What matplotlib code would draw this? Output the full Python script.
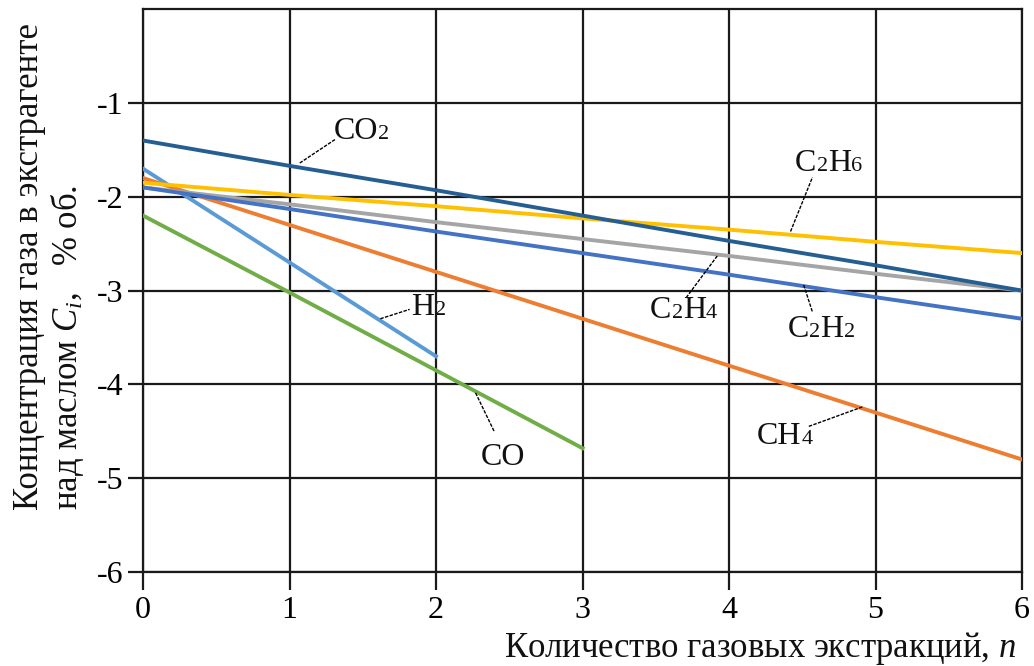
import matplotlib
matplotlib.use("Agg")
import matplotlib.pyplot as plt
from matplotlib.offsetbox import TextArea, HPacker, AnnotationBbox

plt.rcParams['font.family'] = ['Liberation Serif', 'DejaVu Serif']
plt.rcParams['mathtext.fontset'] = 'custom'
plt.rcParams['mathtext.rm'] = 'Liberation Serif'
plt.rcParams['mathtext.it'] = 'Liberation Serif:italic'

# concentration (log scale values) vs number of extractions
n_full = [0, 1, 2, 3, 4, 5, 6]
co2 = [-1.40, -1.67, -1.93, -2.20, -2.47, -2.73, -3.00]
c2h6 = [-1.85, -1.98, -2.10, -2.23, -2.35, -2.48, -2.60]
c2h4 = [-1.90, -2.08, -2.27, -2.45, -2.63, -2.82, -3.00]
c2h2 = [-1.90, -2.13, -2.37, -2.60, -2.83, -3.07, -3.30]
ch4 = [-1.80, -2.30, -2.80, -3.30, -3.80, -4.30, -4.80]
n_h2 = [0, 1, 2]
h2 = [-1.70, -2.70, -3.70]
n_co = [0, 1, 2, 3]
co = [-2.20, -3.02, -3.85, -4.68]

# label pieces: (text, is_subscript), text centre, leader start/end
labels = [
    ([("CO", 0), ("2", 1)], (1.49, -1.30), (1.07, -1.64), (1.31, -1.39)),
    ([("C", 0), ("2", 1), ("H", 0), ("6", 1)], (4.68, -1.64), (4.42, -2.37), (4.57, -1.79)),
    ([("C", 0), ("2", 1), ("H", 0), ("4", 1)], (3.69, -3.21), (3.92, -2.63), (3.71, -3.07)),
    ([("C", 0), ("2", 1), ("H", 0), ("2", 1)], (4.63, -3.41), (4.51, -2.94), (4.57, -3.23)),
    ([("H", 0), ("2", 1)], (1.95, -3.18), (1.62, -3.30), (1.82, -3.20)),
    ([("CO", 0)], (2.46, -4.78), (2.27, -4.09), (2.40, -4.51)),
    ([("CH", 0), ("4", 1)], (4.38, -4.55), (4.91, -4.24), (4.54, -4.45)),
]

fig = plt.figure(figsize=(10.34, 6.66), dpi=100)
ax = fig.add_axes([0.1383, 0.1411, 0.8501, 0.8451])

lw = 2.8
ax.plot(n_h2, h2, color='#5b9bd5', lw=lw, zorder=3)
ax.plot(n_co, co, color='#70ad47', lw=lw, zorder=3)
ax.plot(n_full, ch4, color='#ed7d31', lw=lw, zorder=3)
ax.plot(n_full, c2h4, color='#a5a5a5', lw=lw, zorder=3)
ax.plot(n_full, c2h2, color='#4472c4', lw=lw, zorder=3)
ax.plot(n_full, c2h6, color='#ffc000', lw=lw, zorder=3)
ax.plot(n_full, co2, color='#255e91', lw=lw, zorder=3)

ax.set_xlim(0, 6)
ax.set_ylim(-6, 0)
ax.set_xticks(range(0, 7))
ax.set_yticks(range(-6, 0))
ax.set_yticklabels([str(v) for v in range(-6, 0)])
ax.grid(True, color='#1a1a1a', lw=1.6, zorder=1)
for sp in ax.spines.values():
    sp.set_color('#1a1a1a')
    sp.set_linewidth(1.6)
ax.tick_params(axis='both', direction='out', color='#1a1a1a', width=1.6,
               labelsize=23)
ax.tick_params(axis='x', length=13, pad=4)
ax.tick_params(axis='y', length=11, pad=3)

big = dict(fontsize=23, color='#111111')
small = dict(fontsize=16, color='#111111')
for parts, txy, p0, p1 in labels:
    kids = [TextArea(s, textprops=(small if sub else big)) for s, sub in parts]
    box = HPacker(children=kids, align='baseline', pad=0, sep=0)
    ab = AnnotationBbox(box, txy, xycoords='data', frameon=False,
                        box_alignment=(0.5, 0.5), zorder=5)
    ax.add_artist(ab)
    ax.plot([p0[0], p1[0]], [p0[1], p1[1]], color='black', lw=1.0,
            ls=(0, (2.5, 1)), zorder=4)

fig.text(0.983, 0.014, "Количество газовых экстракций, $n$", fontsize=25,
         ha='right', va='baseline', color='#111111')
fig.text(0.029, 1 - 510 / 666, "Концентрация газа в экстрагенте",
         fontsize=25, rotation=90, ha='center', va='bottom', color='#111111')
fig.text(0.065, 1 - 510 / 666, "над маслом $C_i$,   % об.",
         fontsize=25, rotation=90, ha='center', va='bottom', color='#111111')

fig.savefig("out.png", dpi=100)
